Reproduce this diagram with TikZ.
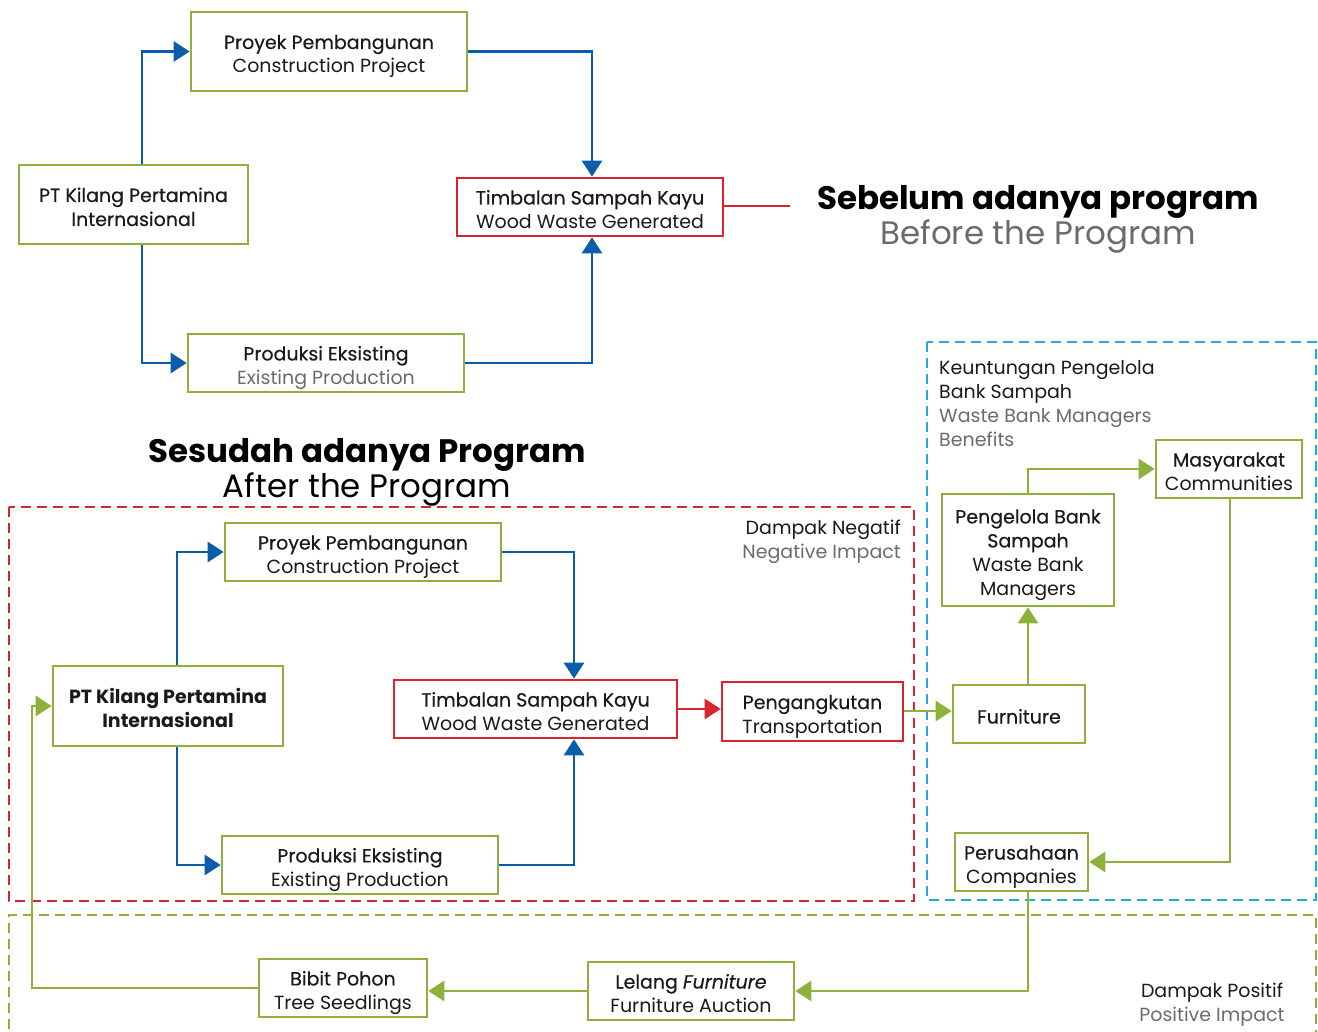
\documentclass[tikz,border=0pt]{standalone}
\usepackage{fontspec}
\setmainfont{Poppins}
\newfontfamily\medfont[FakeBold=0.4]{Poppins}
\usetikzlibrary{arrows.meta}
\definecolor{pgreen}{HTML}{8DB13A}
\definecolor{pblue}{HTML}{0B5CAB}
\definecolor{pred}{HTML}{D92430}
\definecolor{pcyan}{HTML}{25AAE1}
\definecolor{pgrey}{HTML}{6B6B6B}
\definecolor{ptext}{HTML}{1A1A1A}
\newcommand{\ts}{\rule{0pt}{24pt}}
\newcommand{\bs}{\rule[-5pt]{0pt}{5pt}}
\tikzset{
  box/.style={draw=pgreen, line width=2.6pt, fill=white, align=center, inner sep=0pt,
    font=\fontsize{19}{24}\selectfont, text=ptext},
  rbox/.style={box, draw=pred},
  blueline/.style={draw=pblue, line width=2.6pt, -{Triangle[length=16pt,width=20pt]}},
  greenline/.style={draw=pgreen, line width=2.6pt, -{Triangle[length=16pt,width=20pt]}},
  redline/.style={draw=pred, line width=2.6pt, -{Triangle[length=16pt,width=20pt]}},
  plain/.style={draw=pred, line width=2.6pt},
  dashbox/.style={line width=2.6pt, dash pattern=on 10pt off 6pt},
  lbl/.style={inner sep=0pt, font=\fontsize{19}{24}\selectfont, text=ptext},
  ttl/.style={inner sep=0pt, align=center, font=\fontsize{32.5}{33}\selectfont}
}
\begin{document}
\begin{tikzpicture}[x=1pt,y=-1pt]
\useasboundingbox (0,0) rectangle (1318,1032);

% ---------- Before ----------
\node[box, minimum width=276pt, minimum height=79pt] (p1) at (329,51.5) {\ts{\medfont Proyek Pembangunan}\\Construction Project\bs};
\node[box, minimum width=229pt, minimum height=79pt] (k1) at (133.5,204.5) {\ts{\medfont PT Kilang Pertamina}\\{\medfont Internasional}\bs};
\node[rbox, minimum width=266pt, minimum height=58pt] (t1) at (590,207) {\ts{\medfont Timbalan Sampah Kayu}\\Wood Waste Generated\bs};
\node[box, minimum width=276pt, minimum height=58pt] (e1) at (326,363) {\ts{\medfont Produksi Eksisting}\\\textcolor{pgrey}{Existing Production}\bs};
\coordinate (r1) at (790,206);
\draw[plain] (t1.east |- r1) -- (r1);
\node[ttl] (h1) at (1038,219) {\textbf{Sebelum adanya program}\\\textcolor{pgrey}{Before the Program}};

\draw[blueline] (k1.north -| 142,0) |- (p1.west);
\draw[blueline] (k1.south -| 142,0) |- (e1.west);
\draw[blueline] (p1.east) -| (t1.north -| 592,0);
\draw[blueline] (e1.east) -| (t1.south -| 592,0);

% ---------- After ----------
\node[ttl] (h2) at (367,472) {\textbf{Sesudah adanya Program}\\After the Program};

\draw[pred, dashbox] (9,507) rectangle (914,901);
\draw[pcyan, dashbox] (927,342) rectangle (1316,900);
\draw[pgreen, dashbox] (9,1045) -- (9,915) -- (1316,915) -- (1316,1045);

\node[lbl, anchor=north east, align=right] (neg) at (901,510) {\ts Dampak Negatif\\\textcolor{pgrey}{Negative Impact}\bs};
\node[lbl, anchor=north west, align=left] (ben) at (939,350) {\ts Keuntungan Pengelola\\Bank Sampah\\\textcolor{pgrey}{Waste Bank Managers}\\\textcolor{pgrey}{Benefits}\bs};
\node[lbl, align=center] (pos) at (1212,999.5) {\ts Dampak Positif\\\textcolor{pgrey}{Positive Impact}\bs};

\node[box, minimum width=276pt, minimum height=58pt] (p2) at (363,552) {\ts{\medfont Proyek Pembangunan}\\Construction Project\bs};
\node[box, minimum width=230pt, minimum height=80pt] (k2) at (168,706) {\ts\textbf{PT Kilang Pertamina}\\\textbf{Internasional}\bs};
\node[rbox, minimum width=283pt, minimum height=58pt] (t2) at (535.5,709) {\ts{\medfont Timbalan Sampah Kayu}\\Wood Waste Generated\bs};
\node[rbox, minimum width=181pt, minimum height=59pt] (g2) at (812.5,711.5) {\ts{\medfont Pengangkutan}\\Transportation\bs};
\node[box, minimum width=276pt, minimum height=58pt] (e2) at (360,865) {\ts{\medfont Produksi Eksisting}\\Existing Production\bs};

\draw[blueline] (k2.north -| 177,0) |- (p2.west);
\draw[blueline] (k2.south -| 177,0) |- (e2.west);
\draw[blueline] (p2.east) -| (t2.north -| 574,0);
\draw[blueline] (e2.east) -| (t2.south -| 574,0);
\draw[redline] (t2.east) -- (g2.west |- t2.east);

\node[box, minimum width=146pt, minimum height=58pt] (m2) at (1229,469) {\ts{\medfont Masyarakat}\\Communities\bs};
\node[box, minimum width=172pt, minimum height=112pt] (b2) at (1028,550) {\ts{\medfont Pengelola Bank}\\{\medfont Sampah}\\Waste Bank\\Managers\bs};
\node[box, minimum width=132pt, minimum height=58pt] (f2) at (1019,714) {\ts{\medfont Furniture}\bs};
\node[box, minimum width=133pt, minimum height=58pt] (c2) at (1021.5,862) {\ts{\medfont Perusahaan}\\Companies\bs};
\node[box, minimum width=206pt, minimum height=58pt] (l2) at (691,991) {\ts{\medfont Lelang \textit{Furniture}}\\Furniture Auction\bs};
\node[box, minimum width=168pt, minimum height=58pt] (s2) at (343,988) {\ts{\medfont Bibit Pohon}\\Tree Seedlings\bs};
\coordinate (sw) at (32,988);

\draw[greenline] (g2.east |- 0,711) -- (f2.west |- 0,711);
\draw[greenline] (f2.north -| 1028,0) -- (b2.south -| 1028,0);
\draw[greenline] (b2.north -| 1028,0) |- (m2.west);
\draw[greenline] (m2.south -| 1230,0) |- (c2.east);
\draw[greenline] (c2.south -| 1028,0) |- (l2.east);
\draw[greenline] (l2.west) -- (s2.east |- l2.west);
\draw[greenline] (s2.west) -- (sw) |- (k2.west);
\end{tikzpicture}
\end{document}
